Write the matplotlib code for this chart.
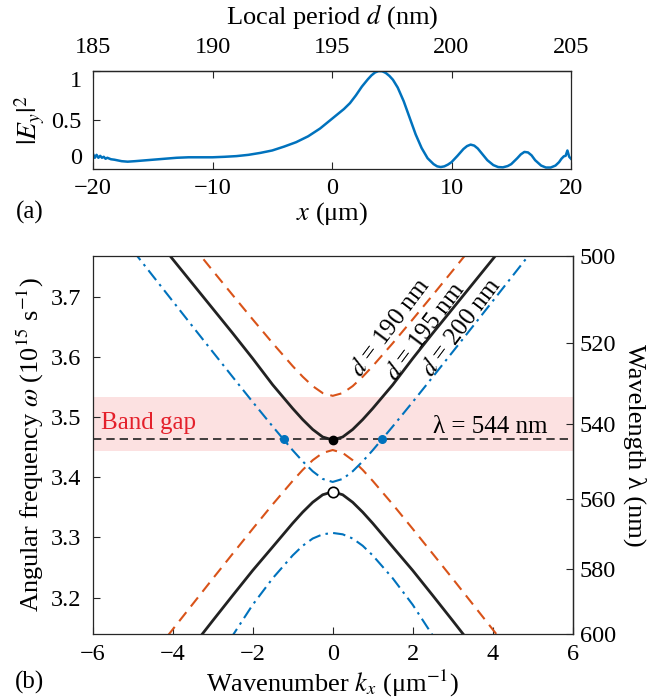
import numpy as np
import matplotlib
matplotlib.use("Agg")
import matplotlib.pyplot as plt

# ---- panel (a): field intensity along the grating ----
x_pos = [-20, -19.85, -19.7, -19.55, -19.4, -19.25, -19.1, -18.95, -18.8, -18.5, -18.2, -17.6, -17.1,
         -16.5, -16.0, -15, -14, -13, -12, -11, -10, -9, -8, -7, -6, -5, -4, -3, -2, -1, 0,
         0.5, 1.0, 1.5, 2.0, 2.5, 3.0, 3.3, 3.6, 3.9, 4.2, 4.5, 4.8, 5.1, 5.5, 6.0, 6.5, 7.0, 7.5,
         8.0, 8.5, 8.8, 9.1, 9.4, 9.7, 10.0, 10.5, 11.0, 11.3, 11.6, 11.9, 12.2, 12.5, 13.0, 13.5,
         13.9, 14.3, 14.7, 15.0, 15.5, 15.8, 16.1, 16.4, 16.7, 17.0, 17.5, 17.9, 18.3, 18.7, 19.0,
         19.2, 19.4, 19.55, 19.7, 19.85, 20.0]
ey2 = [0.15, 0.11, 0.14, 0.11, 0.13, 0.11, 0.12, 0.10, 0.11, 0.095, 0.09, 0.075, 0.07,
       0.075, 0.08, 0.09, 0.10, 0.11, 0.115, 0.115, 0.115, 0.12, 0.127, 0.14, 0.16, 0.185, 0.225, 0.27, 0.33, 0.41, 0.51,
       0.56, 0.61, 0.67, 0.75, 0.84, 0.915, 0.955, 0.985, 1.0, 0.998, 0.98, 0.95, 0.91, 0.83, 0.69, 0.52, 0.35, 0.21,
       0.105, 0.045, 0.022, 0.015, 0.022, 0.04, 0.065, 0.13, 0.20, 0.23, 0.245, 0.235, 0.205, 0.16, 0.085, 0.035,
       0.015, 0.012, 0.025, 0.045, 0.105, 0.145, 0.17, 0.165, 0.135, 0.085, 0.03, 0.01, 0.01, 0.03, 0.065,
       0.10, 0.125, 0.13, 0.185, 0.12, 0.10]

# ---- panel (b): band diagrams, one side (k >= 0), mirrored for k < 0 ----
k_half = [0, 0.25, 0.5, 0.75, 1.0, 1.5, 2.0, 2.5, 3.0, 3.5, 4.0, 4.5, 5.0]
w190_up = [3.535, 3.5396, 3.5512, 3.5668, 3.5844, 3.6224, 3.662, 3.7023, 3.743, 3.784, 3.825, 3.866, 3.907]
w190_lo = [3.445, 3.4402, 3.4281, 3.412, 3.3938, 3.3548, 3.3141, 3.2728, 3.2312, 3.1891, 3.147, 3.1048, 3.063]
w195_up = [3.4617, 3.4667, 3.4792, 3.4956, 3.514, 3.5533, 3.597, 3.639, 3.680, 3.721, 3.762, 3.804, 3.846]
w195_lo = [3.3757, 3.3707, 3.3582, 3.3418, 3.3234, 3.2841, 3.2450, 3.2035, 3.1615, 3.1190, 3.077, 3.035, 2.993]
w200_up = [3.392, 3.397, 3.4097, 3.4262, 3.4446, 3.4841, 3.5248, 3.5663, 3.6081, 3.6501, 3.6923, 3.7345, 3.7768]
w200_lo = [3.3073, 3.305, 3.298, 3.286, 3.270, 3.232, 3.188, 3.137, 3.090, 3.045, 3.000, 2.955, 2.910]

gap_lo, gap_hi = 3.443, 3.533
lam_probe = 544  # nm
k_cross = 1.22
TWO_PI_C = 1883.65  # omega(1e15 s^-1) * lambda(nm)

blue = "#0072BD"
orange = "#D95319"
black = "#222222"
edge = "#262626"
LAB = 19
TXT = 18

plt.rcParams.update({
    "font.family": "serif",
    "font.serif": ["Liberation Serif", "Times New Roman", "DejaVu Serif"],
    "mathtext.fontset": "stix",
    "font.size": 17.5,
    "axes.labelsize": LAB,
    "axes.linewidth": 0.9,
    "axes.edgecolor": edge,
    "xtick.direction": "in",
    "ytick.direction": "in",
    "xtick.major.size": 5,
    "ytick.major.size": 5,
    "xtick.major.pad": 7,
    "ytick.major.pad": 8,
    "xtick.color": edge,
    "ytick.color": edge,
    "xtick.labelcolor": "black",
    "ytick.labelcolor": "black",
})


def mirror(vals):
    v = np.asarray(vals)
    return np.r_[v[:0:-1], v]


kk = np.r_[-np.asarray(k_half)[:0:-1], np.asarray(k_half)]

fig = plt.figure(figsize=(6.53, 7.0), dpi=100)

# panel (a)
ax1 = fig.add_axes([93 / 653, 1 - 168.5 / 700, 478 / 653, 97.5 / 700])
ax1.plot(x_pos, ey2, color=blue, lw=1.8)
ax1.set_xlim(-20, 20)
ax1.set_ylim(0, 1)
ax1.set_xticks([-20, -10, 0, 10, 20])
ax1.set_yticks([0, 0.5, 1])
ax1.set_yticklabels(["0", "0.5", "1"])
ylabs = ax1.get_yticklabels()
ylabs[0].set_va("bottom")
ylabs[-1].set_va("top")
ax1.set_xlabel("$x$ (μm)", labelpad=1)
ax1.set_ylabel("$|E_y|^2$", labelpad=3, fontsize=20)
top = ax1.secondary_xaxis("top", functions=(lambda x: 195 + x / 2, lambda d: 2 * (d - 195)))
top.set_xticks([185, 190, 195, 200, 205])
top.tick_params(direction="in", length=5, pad=9)
top.set_xlabel("Local period $d$ (nm)", labelpad=10)
ax1.tick_params(top=False, right=False)

# panel (b)
ax2 = fig.add_axes([92.7 / 653, 1 - 634 / 700, 480 / 653, 378 / 700])
ax2.axhspan(gap_lo, gap_hi, color="#fce1e1", lw=0, zorder=0)
ax2.axhline(TWO_PI_C / lam_probe, color=black, lw=1.2, ls=(0, (5, 3)), zorder=1)
ax2.plot(kk, mirror(w190_up), color=orange, lw=1.5, ls=(0, (5.5, 3.5)))
ax2.plot(kk, mirror(w190_lo), color=orange, lw=1.5, ls=(0, (5.5, 3.5)))
ax2.plot(kk, mirror(w200_up), color=blue, lw=1.5, ls=(0, (6, 2.5, 1.2, 2.5)))
ax2.plot(kk, mirror(w200_lo), color=blue, lw=1.5, ls=(0, (6, 2.5, 1.2, 2.5)))
ax2.plot(kk, mirror(w195_up), color=black, lw=2)
ax2.plot(kk, mirror(w195_lo), color=black, lw=2)
ax2.plot([0], [w195_up[0]], "o", color="black", ms=6, zorder=5)
ax2.plot([0], [w195_lo[0]], "o", mfc="white", mec="black", mew=1.2, ms=7.5, zorder=5)
ax2.plot([-k_cross, k_cross], [TWO_PI_C / lam_probe] * 2, "o", color=blue, ms=5.5, zorder=5)

ax2.set_xlim(-6, 6)
ax2.set_ylim(TWO_PI_C / 600, TWO_PI_C / 500)
ax2.set_xticks([-6, -4, -2, 0, 2, 4, 6])
ax2.set_yticks([3.2, 3.3, 3.4, 3.5, 3.6, 3.7])
ax2.set_xlabel("Wavenumber $k_x$ (μm$^{-1}$)", labelpad=2)
ax2.set_ylabel("Angular frequency $\\omega$ (10$^{15}$ s$^{-1}$)", labelpad=4)
ax2.tick_params(top=False, right=False)

sec = ax2.secondary_yaxis("right", functions=(lambda w: TWO_PI_C / np.where(w == 0, 1e-9, w),
                                              lambda l: TWO_PI_C / np.where(l == 0, 1e-9, l)))
sec.set_yticks([500, 520, 540, 560, 580, 600])
sec.tick_params(direction="in", length=5, pad=5)
sec.set_ylabel("Wavelength λ (nm)", rotation=-90, labelpad=22)

ax2.text(-5.8, 3.472, "Band gap", color="#e4202b", fontsize=TXT, ha="left", va="bottom")
ax2.text(3.95, 3.4655, "λ = 544 nm", fontsize=TXT, ha="center", va="bottom")
for kx, wy, lbl in [(1.45, 3.648, "190"), (2.33, 3.641, "195"), (3.23, 3.648, "200")]:
    ax2.text(kx, wy, "$d$ = " + lbl + " nm", rotation=53, ha="center", va="center",
             rotation_mode="anchor", fontsize=TXT)

fig.text(30 / 653, 1 - 212 / 700, "(a)", ha="center", va="center", fontsize=TXT)
fig.text(30 / 653, 1 - 682 / 700, "(b)", ha="center", va="center", fontsize=TXT)

fig.savefig("out.png", dpi=100)
